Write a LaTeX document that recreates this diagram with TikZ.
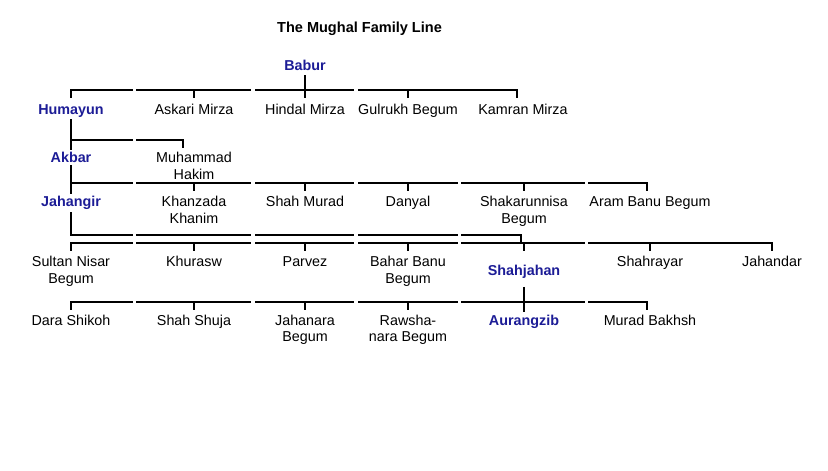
\documentclass[tikz,border=0pt]{standalone}
\usepackage{fontspec}
\setmainfont{Liberation Sans}
\usetikzlibrary{
  calc,
}
\tikzstyle{link} = [
  line width=1.5pt,
  black,
]
\definecolor{mughalnavy}{RGB}{28, 28, 150}
\colorlet{heircolor}{mughalnavy}

\begin{document}
\begin{tikzpicture}[x=0.75pt, y=-0.75pt,
                    member/.style={anchor=base, align=center, inner sep=1.5pt,
                                   font=\fontsize{10.75pt}{12.4pt}\selectfont},
                    tall/.style={member, yshift=-12.4pt},
                    heir/.style={member, text=heircolor,
                                 font=\fontsize{10.75pt}{12.4pt}\selectfont\bfseries}]
    \useasboundingbox (0,0) rectangle (828,471);
    \node [member, font=\fontsize{10.9pt}{12.4pt}\selectfont\bfseries] (title)
          at (359.5,32) {The Mughal Family Line};
    % the generations, one row of cells each
    \node [heir] (babur) at (305,70) {Babur};

    \node [heir] (humayun) at (71,114) {Humayun};
    \node [member] (askari) at (194,114) {Askari Mirza};
    \node [member] (hindal) at (305,114) {Hindal Mirza};
    \node [member] (gulrukh) at (408,114) {Gulrukh Begum};
    \node [member] (kamran) at (523,114) {Kamran Mirza};

    \node [heir] (akbar) at (71,162.7) {Akbar};
    \node [tall] (hakim) at (194,162.7) {Muhammad\\Hakim};

    \node [heir] (jahangir) at (71,206.7) {Jahangir};
    \node [tall] (khanzada) at (194,206.7) {Khanzada\\Khanim};
    \node [member] (murad) at (305,206.7) {Shah Murad};
    \node [member] (danyal) at (408,206.7) {Danyal};
    \node [tall] (shakarunnisa) at (524,206.7) {Shakarunnisa\\Begum};
    \node [member] (aram) at (650,206.7) {Aram Banu Begum};

    \node [tall] (sultan) at (71,266.7) {Sultan Nisar\\Begum};
    \node [member] (khurasw) at (194,266.7) {Khurasw};
    \node [member] (parvez) at (305,266.7) {Parvez};
    \node [tall] (bahar) at (408,266.7) {Bahar Banu\\Begum};
    \node [heir] (shahjahan) at (524,275) {Shahjahan};
    \node [member] (shahrayar) at (650,266.7) {Shahrayar};
    \node [member] (jahandar) at (772,266.7) {Jahandar};

    \node [member] (dara) at (71,325) {Dara Shikoh};
    \node [member] (shuja) at (194,325) {Shah Shuja};
    \node [tall] (jahanara) at (305,325) {Jahanara\\Begum};
    \node [tall] (rawshanara) at (408,325) {Rawsha-\\nara Begum};
    \node [heir] (aurangzib) at (524,325) {Aurangzib};
    \node [member] (bakhsh) at (650,325) {Murad Bakhsh};

    % sibling bars, broken at the cell borders
    \coordinate (bar1) at (0,90);
    \coordinate (bar2) at (0,140);
    \coordinate (bar3) at (0,183);
    \coordinate (bar4) at (0,235);
    \coordinate (bar5) at (0,243);
    \coordinate (bar6) at (0,302);
    \foreach \y/\cells in {90/{70/133,136/251,255/354,358/518},
                           140/{70/133,136/184},
                           183/{70/133,136/251,255/354,358/458,461/585,588/648},
                           235/{70/133,136/251,255/354,358/458,461/522},
                           243/{70/133,136/251,255/354,358/458,461/585,588/773},
                           302/{70/133,136/251,255/354,358/458,461/585,588/648}}
      \foreach \a/\b in \cells
        \draw [link] (\a,\y) -- (\b,\y);

    \foreach \kid/\row in {humayun/bar1, askari/bar1, gulrukh/bar1,
                           khanzada/bar3, murad/bar3, danyal/bar3, shakarunnisa/bar3,
                           sultan/bar5, khurasw/bar5, parvez/bar5, bahar/bar5,
                           shahjahan/bar5, shahrayar/bar5, jahandar/bar5,
                           dara/bar6, shuja/bar6, jahanara/bar6, rawshanara/bar6}
      \draw [link] (\kid.north |- \row) ++(0,-1) -- ++(0,9);
    \draw [link] ($(kamran.north |- bar1)+(-6,-1)$) -- ++(0,9);
    \draw [link] ($(hakim.north |- bar2)+(-11,-1)$) -- ++(0,9);
    \draw [link] ($(aram.north |- bar3)+(-3,-1)$) -- ++(0,9);
    \draw [link] ($(bakhsh.north |- bar6)+(-3,-1)$) -- ++(0,9);

    % parent lines
    \draw [link] ([yshift=-2pt]babur.south) -- ($(babur.south |- bar1)+(0,8)$);
    \draw [link] (humayun.south) -- (akbar.north);
    \draw [link] (akbar.south) -- (jahangir.north);
    \draw [link] (jahangir.south) -- (jahangir.south |- bar4);
    \draw [link] ($(shahjahan.north |- bar4)+(-3,-1)$) -- ($(shahjahan.north |- bar5)+(-3,0)$);
    \draw [link] ([yshift=-5pt]shahjahan.south) -- (aurangzib.north);
\end{tikzpicture}
\end{document}
